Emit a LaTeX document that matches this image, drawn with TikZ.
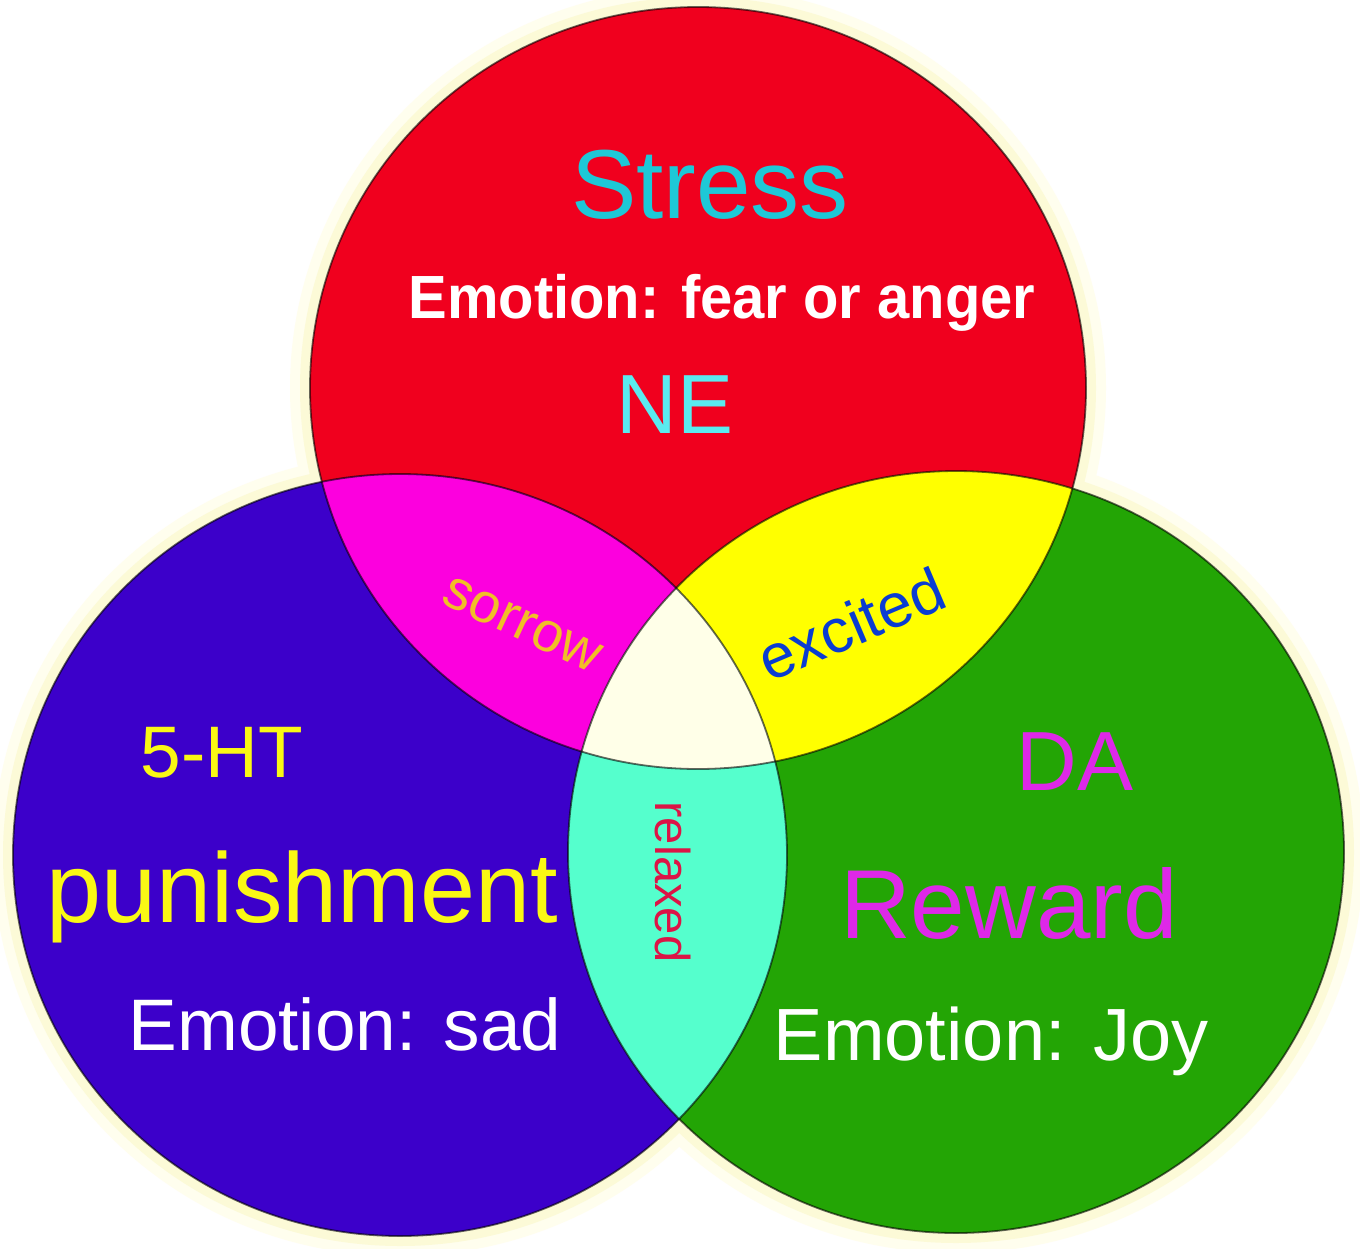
\documentclass[tikz,border=0pt]{standalone}
\usepackage{fontspec}
\usepackage{graphicx}
\setmainfont{Liberation Sans}
\definecolor{cRed}{RGB}{240,0,30}
\definecolor{cBlue}{RGB}{60,0,202}
\definecolor{cGreen}{RGB}{35,165,5}
\definecolor{cMag}{RGB}{252,0,222}
\definecolor{cYel}{RGB}{255,255,0}
\definecolor{cAqua}{RGB}{85,255,205}
\definecolor{cCream}{RGB}{255,255,232}
\definecolor{cHaloA}{RGB}{255,254,238}
\definecolor{cHaloB}{RGB}{252,250,215}
\definecolor{cStress}{RGB}{30,200,215}
\definecolor{cNE}{RGB}{90,235,240}
\definecolor{cYtext}{RGB}{250,248,20}
\definecolor{cMtext}{RGB}{222,40,232}
\definecolor{cSorrow}{RGB}{240,190,40}
\definecolor{cExcited}{RGB}{10,60,210}
\definecolor{cRelaxed}{RGB}{220,20,70}
\begin{document}
\begin{tikzpicture}[x=1pt,y=-1pt,
  every node/.style={inner sep=0pt, outer sep=0pt},
  edge/.style={draw=black, line width=1.8pt, draw opacity=0.6},
  lbl/.style={anchor=base}]
\useasboundingbox (0,0) rectangle (1360,1248);
\fill[white] (0,0) rectangle (1360,1248);
\def\RedE{(698,388) ellipse (388pt and 381pt)}
\def\BlueE{(400,855) ellipse (387pt and 381pt)}
\def\GreenE{(956,852) ellipse (388pt and 381pt)}
% halo
\fill[cHaloA] (698,388) ellipse (408pt and 401pt);
\fill[cHaloA] (400,855) ellipse (407pt and 401pt);
\fill[cHaloA] (956,852) ellipse (408pt and 401pt);
\fill[cHaloB] (698,388) ellipse (398pt and 391pt);
\fill[cHaloB] (400,855) ellipse (397pt and 391pt);
\fill[cHaloB] (956,852) ellipse (398pt and 391pt);
% circles
\fill[cRed] \RedE;
\fill[cBlue] \BlueE;
\fill[cGreen] \GreenE;
\begin{scope} \clip \RedE; \fill[cMag] \BlueE; \end{scope}
\begin{scope} \clip \RedE; \fill[cYel] \GreenE; \end{scope}
\begin{scope} \clip \BlueE; \fill[cAqua] \GreenE; \end{scope}
\begin{scope} \clip \RedE; \clip \BlueE; \fill[cCream] \GreenE; \end{scope}
\path[edge] \RedE;
\path[edge] \BlueE;
\path[edge] \GreenE;
% texts
\node[lbl, text=cStress, font=\fontsize{98}{100}\selectfont] (stress) at (710,218) {Stress};
\node[lbl, text=white, font=\bfseries\fontsize{61}{64}\selectfont] (emofear) at (722,318) {\scalebox{0.95}[1]{Emotion: fear or anger}};
\node[lbl, text=cNE, font=\fontsize{84}{86}\selectfont] (ne) at (675,433) {NE};
\node[lbl, text=cYtext, font=\fontsize{73}{75}\selectfont] (ht) at (222,777) {5-HT};
\node[lbl, text=cYtext, font=\fontsize{99}{101}\selectfont] (pun) at (302,922) {punishment};
\node[lbl, text=white, font=\fontsize{73}{75}\selectfont] (emosad) at (345,1050) {Emotion: sad};
\node[lbl, text=cMtext, font=\fontsize{84}{86}\selectfont] (da) at (1075,790) {DA};
\node[lbl, text=cMtext, font=\fontsize{98}{100}\selectfont] (reward) at (1009,938) {Reward};
\node[lbl, text=white, font=\fontsize{74}{76}\selectfont] (emojoy) at (991,1060) {Emotion: Joy};
\node[text=cSorrow, font=\fontsize{56}{58}\selectfont, rotate=-25] (sorrow) at (522,625) {sorrow};
\node[text=cExcited, font=\fontsize{62}{64}\selectfont, rotate=23] (excited) at (851,624) {excited};
\node[text=cRelaxed, font=\fontsize{49}{51}\selectfont, rotate=-90] (relaxed) at (673,882) {relaxed};
\end{tikzpicture}
\end{document}
